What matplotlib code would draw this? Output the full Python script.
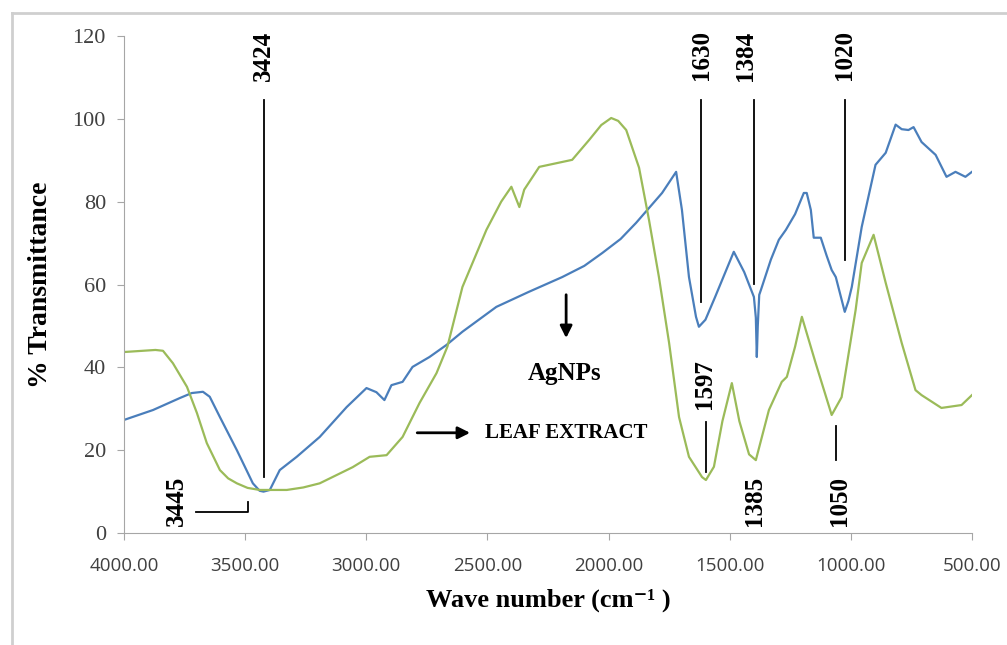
import matplotlib.pyplot as plt
from matplotlib.lines import Line2D

# AgNPs spectrum (blue)
agnp_wn = [4000, 3880, 3769, 3720, 3674, 3646, 3604, 3534, 3468, 3440, 3424, 3398,
           3357, 3287, 3192, 3081, 2999, 2958, 2925, 2896, 2850, 2809, 2739, 2669,
           2603, 2463, 2330, 2191, 2100, 2026, 1950, 1886, 1779, 1721, 1697, 1668,
           1639, 1627, 1600, 1560, 1483, 1440, 1400, 1392, 1388, 1384, 1378, 1371,
           1330, 1297, 1268, 1230, 1194, 1182, 1165, 1153, 1124, 1100, 1079, 1062,
           1025, 1010, 996, 955, 898, 856, 815, 790, 762, 741, 708, 650, 605, 568,
           527, 500]
agnp_t = [27.3, 29.7, 32.6, 33.8, 34.1, 32.9, 28.0, 20.0, 12.0, 10.2, 10.0, 10.4,
          15.2, 18.4, 23.2, 30.4, 35.0, 34.0, 32.1, 35.7, 36.5, 40.1, 42.5, 45.4,
          48.6, 54.6, 58.2, 61.8, 64.5, 67.6, 71.0, 74.9, 82.1, 87.2, 78.0, 61.8,
          52.2, 49.8, 51.5, 57.0, 67.9, 63.0, 57.0, 52.0, 42.5, 50.0, 57.5, 58.7,
          66.0, 70.8, 73.2, 77.0, 82.1, 82.1, 78.0, 71.3, 71.3, 67.0, 63.5, 61.8,
          53.4, 56.0, 59.4, 73.9, 88.9, 91.8, 98.6, 97.5, 97.3, 98.0, 94.4, 91.3,
          86.0, 87.2, 86.0, 87.2]

# leaf extract spectrum (green)
leaf_wn = [4000, 3870, 3839, 3798, 3740, 3699, 3658, 3604, 3570, 3534, 3490, 3440,
           3328, 3260, 3192, 3056, 2986, 2916, 2850, 2780, 2710, 2665, 2603, 2504,
           2443, 2401, 2368, 2348, 2286, 2150, 2080, 2030, 1989, 1960, 1927, 1874,
           1833, 1792, 1750, 1709, 1668, 1614, 1598, 1565, 1530, 1491, 1460, 1420,
           1392, 1338, 1285, 1264, 1230, 1202, 1145, 1079, 1038, 980, 955, 906,
           856, 790, 733, 708, 626, 543, 500]
leaf_t = [43.7, 44.2, 44.0, 41.0, 35.3, 29.0, 21.7, 15.2, 13.2, 12.0, 10.9, 10.4,
          10.4, 11.0, 12.0, 15.9, 18.4, 18.8, 23.2, 31.4, 38.6, 45.0, 59.4, 73.2,
          80.0, 83.6, 78.7, 82.9, 88.4, 90.1, 94.9, 98.5, 100.2, 99.5, 97.3, 88.2,
          75.6, 61.8, 45.9, 28.0, 18.4, 13.5, 12.8, 16.0, 27.0, 36.2, 27.0, 19.0,
          17.6, 29.7, 36.5, 37.7, 45.0, 52.2, 41.0, 28.5, 32.8, 53.9, 65.2, 72.0,
          60.4, 45.9, 34.5, 33.3, 30.2, 30.9, 33.3]

xticks = [4000, 3500, 3000, 2500, 2000, 1500, 1000, 500]
yticks = [0, 20, 40, 60, 80, 100, 120]

serif = ['Liberation Serif', 'DejaVu Serif']
tick_grey = '#404040'
axis_grey = '#a6a6a6'

fig = plt.figure(figsize=(10.07, 6.45), dpi=100)
ax = fig.add_axes([0.1231, 0.1736, 0.8421, 0.7706])

ax.plot(agnp_wn, agnp_t, color='#4a7ebb', lw=1.6)
ax.plot(leaf_wn, leaf_t, color='#9bbb59', lw=1.6)

ax.set_xlim(4000, 500)
ax.set_ylim(0, 120)
ax.set_xticks(xticks)
ax.set_xticklabels([f"{v:.2f}" for v in xticks], family='Open Sans', fontsize=13.5, color=tick_grey)
ax.set_yticks(yticks)
ax.set_yticklabels([str(v) for v in yticks], family=serif, fontsize=16, color=tick_grey)
for s in ['top', 'right']:
    ax.spines[s].set_visible(False)
for s in ['left', 'bottom']:
    ax.spines[s].set_color(axis_grey)
ax.tick_params(axis='both', direction='out', length=5, color=axis_grey)
ax.tick_params(axis='x', pad=12)
ax.tick_params(axis='y', pad=8)

ax.set_xlabel("Wave number (cm⁻¹ )", family=serif, fontsize=19, fontweight='bold', labelpad=10)
ax.set_ylabel("% Transmittance", family=serif, fontsize=20, fontweight='bold', labelpad=14)

# peak markers, AgNPs on top
top_marks = [("3424", 3424, 3424, 13.5), ("1630", 1618, 1618, 55.8),
             ("1384", 1433, 1400, 60.1), ("1020", 1025, 1025, 65.9)]
for lbl, tx, lx, ylow in top_marks:
    ax.plot([lx, lx], [104.6, ylow], color='black', lw=1.3)
    ax.text(tx, 115.3, lbl, rotation=90, ha='center', va='center', family=serif,
            fontsize=18, fontweight='bold')

# peak markers, leaf extract below
ax.text(3782, 7.7, "3445", rotation=90, ha='center', va='center', family=serif,
        fontsize=18, fontweight='bold')
ax.plot([3703, 3489, 3489], [5.1, 5.1, 7.5], color='black', lw=1.3)
ax.text(1602, 36.0, "1597", rotation=90, ha='center', va='center', family=serif,
        fontsize=18, fontweight='bold')
ax.plot([1598, 1598], [26.8, 14.7], color='black', lw=1.3)
ax.text(1396, 7.7, "1385", rotation=90, ha='center', va='center', family=serif,
        fontsize=18, fontweight='bold')
ax.text(1046, 7.7, "1050", rotation=90, ha='center', va='center', family=serif,
        fontsize=18, fontweight='bold')
ax.plot([1062, 1062], [25.8, 17.6], color='black', lw=1.3)

# curve labels with arrows
ax.annotate("", xy=(2175, 46.4), xytext=(2175, 58.2),
            arrowprops=dict(arrowstyle='-|>', color='black', lw=2, mutation_scale=18))
ax.text(2183, 38.6, "AgNPs", ha='center', va='center', family=serif, fontsize=18, fontweight='bold')
ax.annotate("", xy=(2560, 24.2), xytext=(2801, 24.2),
            arrowprops=dict(arrowstyle='-|>', color='black', lw=2, mutation_scale=18))
ax.text(2508, 24.2, "LEAF EXTRACT", ha='left', va='center', family=serif, fontsize=15, fontweight='bold')

# chart frame (only left/top edges fall inside the picture)
fig.add_artist(Line2D([12/1007, 12/1007], [0, 1 - 13/645], color='#cfcfcf', lw=2))
fig.add_artist(Line2D([12/1007, 1], [1 - 13/645, 1 - 13/645], color='#cfcfcf', lw=2))

fig.savefig("out.png", dpi=100)
